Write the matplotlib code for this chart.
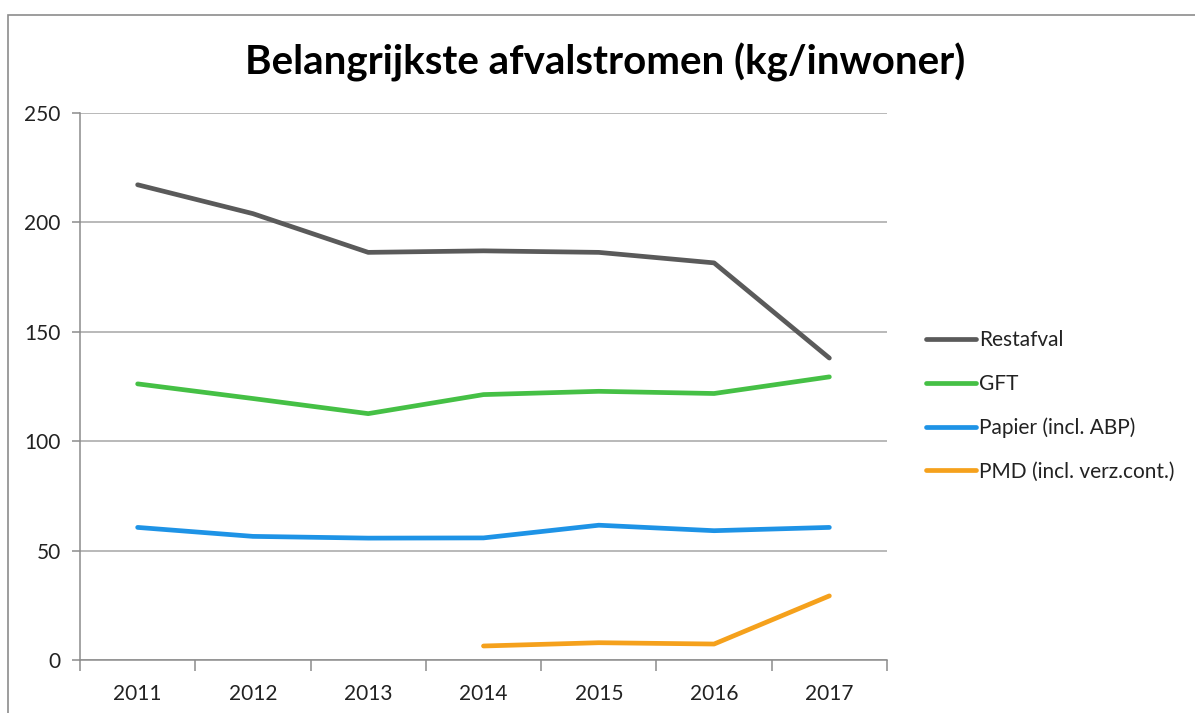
import matplotlib
matplotlib.use("Agg")
import matplotlib.pyplot as plt
from matplotlib.patches import Rectangle

years = ["2011", "2012", "2013", "2014", "2015", "2016", "2017"]
restafval = [217.2, 204.0, 186.3, 187.0, 186.3, 181.5, 138.0]
gft = [126.2, 119.5, 112.6, 121.3, 122.8, 121.8, 129.4]
papier = [60.6, 56.5, 55.7, 55.8, 61.6, 59.1, 60.6]
pmd_years = ["2014", "2015", "2016", "2017"]
pmd = [6.4, 7.9, 7.3, 29.3]
series_names = ["Restafval", "GFT", "Papier (incl. ABP)", "PMD (incl. verz.cont.)"]
title = "Belangrijkste afvalstromen (kg/inwoner)"

plt.rcParams['font.family'] = ['Lato', 'DejaVu Sans']

fig = plt.figure(figsize=(11.95, 7.13), dpi=100)
ax = fig.add_axes([80/1195, 1-660/713, (887-80)/1195, (660-113)/713])

xi = list(range(len(years)))
pmd_x = [years.index(y) for y in pmd_years]
colors = ["#5a5a5a", "#45c045", "#1e93e6", "#f5a11c"]
lw = 3.4
ax.plot(xi, restafval, color=colors[0], lw=lw, label=series_names[0], solid_capstyle='round')
ax.plot(xi, gft, color=colors[1], lw=lw, label=series_names[1], solid_capstyle='round')
ax.plot(xi, papier, color=colors[2], lw=lw, label=series_names[2], solid_capstyle='round')
ax.plot(pmd_x, pmd, color=colors[3], lw=lw, label=series_names[3], solid_capstyle='round')

ax.set_xlim(-0.5, len(years) - 0.5)
ax.set_ylim(0, 250)
ax.set_yticks([0, 50, 100, 150, 200, 250])
ax.yaxis.grid(True, color="#a6a6a6", lw=1.1)
ax.set_axisbelow(True)

ax.set_xticks([i - 0.5 for i in range(len(years) + 1)])
ax.set_xticklabels([])
ax.set_xticks(xi, minor=True)
ax.set_xticklabels(years, minor=True)
ax.tick_params(axis='x', which='major', length=8, color="#8c8c8c", width=1.1, direction='out')
ax.tick_params(axis='x', which='minor', length=0, pad=17, labelsize=15, labelcolor="#222222")
ax.tick_params(axis='y', length=6, color="#8c8c8c", width=1.1, labelsize=15, labelcolor="#222222", pad=8)

for s in ["top", "right"]:
    ax.spines[s].set_visible(False)
for s in ["left", "bottom"]:
    ax.spines[s].set_color("#8c8c8c")
    ax.spines[s].set_linewidth(1.1)

leg = fig.legend(loc="upper left", bbox_to_anchor=(918/1195, 1-322/713), frameon=False,
                 fontsize=15, handlelength=2.4, handletextpad=0.15, labelspacing=1.13,
                 borderaxespad=0)
for t in leg.get_texts():
    t.set_color("#222222")

fig.text(605/1195, 1-62/713, title, ha="center", va="center", fontsize=29, fontweight="bold", color="#000000")

fig.patches.append(Rectangle((8/1195, -0.5), 2.0, 0.5 + 1 - 15/713, transform=fig.transFigure,
                             fill=False, edgecolor="#8c8c8c", lw=1.2, zorder=0))

fig.savefig("out.png", dpi=100)
